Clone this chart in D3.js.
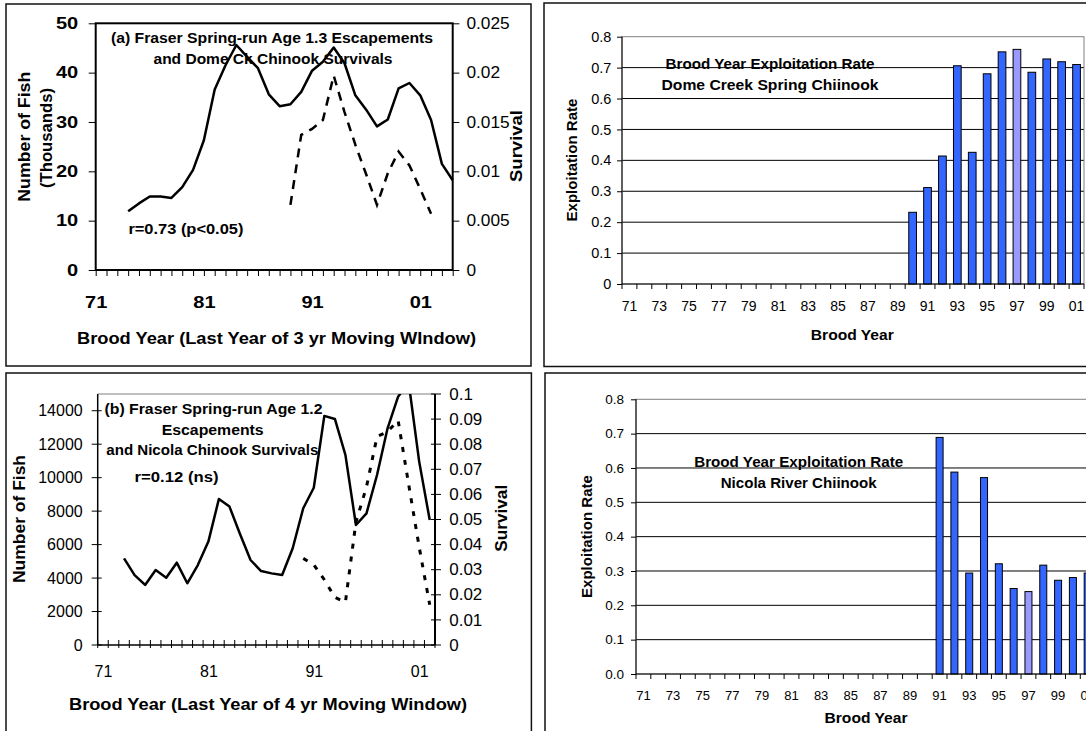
<!DOCTYPE html>
<html><head><meta charset="utf-8">
<script src="https://cdn.jsdelivr.net/npm/d3@7"></script>
<style>html,body{margin:0;padding:0;background:#fff}svg{display:block}</style>
</head><body>
<svg id="c" width="1086" height="731"></svg>
<script>
// ---------- DATA ----------
// (a) Fraser spring-run age 1.3 escapements (thousands), 3-yr moving window
const escAYears = [1974,1975,1976,1977,1978,1979,1980,1981,1982,1983,1984,1985,1986,1987,1988,1989,1990,1991,1992,1993,1994,1995,1996,1997,1998,1999,2000,2001,2002,2003,2004];
const escA = [11.9,13.5,14.9,14.9,14.6,16.8,20.3,26.3,36.6,41.5,45.6,43.2,40.9,35.6,33.2,33.6,36.1,40.4,42.2,45.1,41.9,35.4,32.5,29.1,30.5,36.8,37.9,35.4,30.4,21.5,18.2];
// Dome Ck chinook survivals
const survAYears = [1989,1990,1991,1992,1993,1994,1995,1996,1997,1998,1999,2000,2001,2002];
const survA = [0.0066,0.0137,0.0143,0.0152,0.0197,0.0160,0.0127,0.0097,0.0066,0.0098,0.0120,0.0106,0.0082,0.0057];
const escTicksA = [0,10,20,30,40,50];
const survTicksA = [0,0.005,0.01,0.015,0.02,0.025];
const yearLabelsA = [1971,1981,1991,2001];

// (b) Fraser spring-run age 1.2 escapements, 4-yr moving window
const escBYears = [1973,1974,1975,1976,1977,1978,1979,1980,1981,1982,1983,1984,1985,1986,1987,1988,1989,1990,1991,1992,1993,1994,1995,1996,1997,1998,1999,2000,2001,2002];
const escB = [5180,4180,3590,4480,4020,4920,3690,4780,6180,8730,8270,6630,5080,4420,4280,4180,5780,8170,9400,13690,13510,11360,7170,7870,10160,12950,14840,15700,10960,7470];
// Nicola chinook survivals
const survBYears = [1990,1991,1992,1993,1994,1995,1996,1997,1998,1999,2000,2001,2002];
const survB = [0.0345,0.032,0.026,0.019,0.017,0.049,0.063,0.083,0.085,0.0895,0.064,0.039,0.016];
const escTicksB = [0,2000,4000,6000,8000,10000,12000,14000];
const survTicksB = [0,0.01,0.02,0.03,0.04,0.05,0.06,0.07,0.08,0.09,0.1];
const yearLabelsB = [1971,1981,1991,2001];

// Brood year exploitation rates
const broodYears = [1971,1972,1973,1974,1975,1976,1977,1978,1979,1980,1981,1982,1983,1984,1985,1986,1987,1988,1989,1990,1991,1992,1993,1994,1995,1996,1997,1998,1999,2000,2001];
const oddYearLabels = [1971,1973,1975,1977,1979,1981,1983,1985,1987,1989,1991,1993,1995,1997,1999,2001];
const domeYears = [1990,1991,1992,1993,1994,1995,1996,1997,1998,1999,2000,2001];
const domeER = [0.232,0.312,0.414,0.706,0.426,0.680,0.751,0.759,0.685,0.728,0.719,0.710];
const nicolaYears = [1991,1992,1993,1994,1995,1996,1997,1998,1999,2000,2001];
const nicolaER = [0.689,0.588,0.294,0.572,0.321,0.249,0.240,0.317,0.273,0.281,0.294];
const highlightYear = 1997;
const erTicks = [0,0.1,0.2,0.3,0.4,0.5,0.6,0.7,0.8];

// ---------- HELPERS ----------
const FONT = "Arial, 'Liberation Sans', Helvetica, sans-serif";
const svg = d3.select("#c");
const yy = d => String(d % 100).padStart(2, "0");

function label(g, s, x, y, o = {}) {
  const t = g.append("text").attr("x", x).attr("y", y).text(s)
    .attr("font-family", FONT).attr("font-size", o.size || 14)
    .attr("font-weight", o.bold ? "bold" : "normal")
    .attr("text-anchor", o.anchor || "middle").attr("fill", "#000");
  if (o.dy) t.attr("dy", o.dy);
  if (o.rot) t.attr("transform", `rotate(-90,${x},${y})`);
  if (o.len) t.attr("textLength", o.len).attr("lengthAdjust", "spacingAndGlyphs");
  return t;
}
function styleAxis(g, o) {
  g.select(".domain").remove();
  g.selectAll(".tick line").attr("stroke", "#000").attr("stroke-width", 1);
  const tx = g.selectAll(".tick text").attr("font-family", FONT).attr("font-size", o.size)
    .attr("font-weight", o.bold ? "bold" : "normal").attr("fill", "#000");
  if (o.stretch) tx.each(function () {
    const L = this.getComputedTextLength();
    if (L > 0) d3.select(this).attr("textLength", L * o.stretch).attr("lengthAdjust", "spacingAndGlyphs");
  });
}
function panelBorder(x, y, w, h) {
  svg.append("rect").attr("x", x).attr("y", y).attr("width", w).attr("height", h)
    .attr("fill", "none").attr("stroke", "#111").attr("stroke-width", 1.5);
}

// ---------- PANEL BORDERS ----------
panelBorder(6, 4, 525, 362);
panelBorder(544, 3, 600, 363.5);
panelBorder(6, 373, 525.4, 400);
panelBorder(545, 373, 600, 400);

// ---------- PANEL A ----------
{
  const g = svg.append("g");
  const L = 95.7, R = 452.7, T = 23.3, B = 270;
  const x = d3.scaleLinear().domain([1971, 2004]).range([L, R]);
  const y = d3.scaleLinear().domain([0, 50]).range([B, T]);
  const s = d3.scaleLinear().domain([0, 0.025]).range([B, T]);

  g.append("g").attr("transform", `translate(${L},0)`)
    .call(d3.axisLeft(y).tickValues(escTicksA).tickSize(7).tickPadding(10.5).tickFormat(d3.format("d")))
    .call(styleAxis, {size: 16, bold: true, stretch: 1.25});
  g.append("g").attr("transform", `translate(${R},0)`)
    .call(d3.axisRight(s).tickValues(survTicksA).tickSize(6.7).tickPadding(7).tickFormat(d => d === 0 ? "0" : String(+d.toFixed(3))))
    .call(styleAxis, {size: 16, stretch: 1.08});
  g.append("g").attr("transform", `translate(0,${B})`)
    .call(d3.axisBottom(x).tickValues(d3.range(1971, 2005)).tickSize(6).tickPadding(20.6)
      .tickFormat(d => yearLabelsA.includes(d) ? yy(d) : ""))
    .call(styleAxis, {size: 16, bold: true, stretch: 1.25});

  g.append("rect").attr("x", L).attr("y", T).attr("width", R - L).attr("height", B - T)
    .attr("fill", "none").attr("stroke", "#000").attr("stroke-width", 2);

  const escPts = escAYears.map((d, i) => [d, escA[i]]);
  const survPts = survAYears.map((d, i) => [d, survA[i]]);
  g.append("path").attr("d", d3.line().x(d => x(d[0])).y(d => y(d[1]))(escPts))
    .attr("fill", "none").attr("stroke", "#000").attr("stroke-width", 2.5).attr("stroke-linejoin", "round");
  g.append("path").attr("d", d3.line().x(d => x(d[0])).y(d => s(d[1]))(survPts))
    .attr("fill", "none").attr("stroke", "#000").attr("stroke-width", 2.5).attr("stroke-dasharray", "9,7");

  label(g, "(a) Fraser Spring-run Age 1.3 Escapements", 272, 43, {bold: true, size: 14, len: 322});
  label(g, "and Dome Ck Chinook Survivals", 273, 64, {bold: true, size: 14, len: 239});
  label(g, "r=0.73 (p<0.05)", 128.4, 234, {bold: true, size: 14, len: 115, anchor: "start"});
  label(g, "Brood Year (Last Year of 3 yr Moving WIndow)", 276.5, 344, {bold: true, size: 16, len: 399});
  label(g, "Number of Fish", 24.3, 136.7, {bold: true, size: 16, len: 130, rot: true, dy: "0.35em"});
  label(g, "(Thousands)", 46.6, 138, {bold: true, size: 16, len: 100, rot: true, dy: "0.35em"});
  label(g, "Survival", 516, 146, {bold: true, size: 16, len: 72, rot: true, dy: "0.35em"});
}

// ---------- BAR PANEL ----------
function barPanel(o) {
  const g = svg.append("g");
  const {L, R, T, B} = o;
  const x = d3.scaleBand().domain(broodYears).range([L, R]);
  const y = d3.scaleLinear().domain([0, 0.8]).range([B, T]);
  g.selectAll("line.grid").data(erTicks.filter(v => v > 0 && v < 0.8)).join("line")
    .attr("x1", L).attr("x2", R).attr("y1", d => y(d)).attr("y2", d => y(d))
    .attr("stroke", "#000").attr("stroke-width", 1);
  g.append("rect").attr("x", L).attr("y", T).attr("width", R - L).attr("height", B - T)
    .attr("fill", "none").attr("stroke", "#808080").attr("stroke-width", 1);
  const bars = o.years.map((d, i) => ({year: d, v: o.values[i]}));
  g.selectAll("rect.bar").data(bars).join("rect")
    .attr("x", d => x(d.year) + x.bandwidth() / 2 - o.bw / 2).attr("width", o.bw)
    .attr("y", d => y(d.v)).attr("height", d => y(0) - y(d.v))
    .attr("fill", d => d.year === highlightYear ? "#9999ff" : "#3366ff")
    .attr("stroke", "#000").attr("stroke-width", 1);
  // axes lines
  g.append("line").attr("x1", L).attr("x2", L).attr("y1", T).attr("y2", B).attr("stroke", "#000");
  g.append("line").attr("x1", L).attr("x2", R).attr("y1", B).attr("y2", B).attr("stroke", "#000");
  g.append("g").attr("transform", `translate(${L},0)`)
    .call(d3.axisLeft(y).tickValues(erTicks).tickSize(5).tickPadding(o.yPad).tickFormat(o.yFmt))
    .call(styleAxis, {size: o.tickSize});
  // category boundary ticks
  g.selectAll("line.xt").data(broodYears.map(d => x(d)).concat([R])).join("line")
    .attr("x1", d => d).attr("x2", d => d).attr("y1", B).attr("y2", B + 5).attr("stroke", "#000");
  g.append("g").attr("transform", `translate(0,${B})`)
    .call(d3.axisBottom(x).tickValues(oddYearLabels).tickSize(0).tickPadding(o.xPad).tickFormat(yy))
    .call(styleAxis, {size: o.xTickSize});
  label(g, "Exploitation Rate", o.ytX, o.ytY, {bold: true, size: 15, len: 123, rot: true, dy: "0.35em"});
  label(g, "Brood Year", o.xtX, o.xtY, {bold: true, size: 15, len: 83});
  label(g, "Brood Year Exploitation Rate", o.tX, o.t1Y, {bold: true, size: 14.5, len: 209});
  label(g, o.title2, o.tX, o.t2Y, {bold: true, size: 14.5, len: o.t2Len});
}

barPanel({L: 622, R: 1084, T: 36.7, B: 284, bw: 7.7, years: domeYears, values: domeER,
  yPad: 5.6, yFmt: d => d === 0 ? "0" : d.toFixed(1), tickSize: 14.5, xTickSize: 14, xPad: 17,
  ytX: 572, ytY: 160, xtX: 852.3, xtY: 340, tX: 770, t1Y: 68.5, t2Y: 90,
  title2: "Dome Creek Spring Chiinook", t2Len: 217});

barPanel({L: 636, R: 1095.1, T: 399.3, B: 674, bw: 7, years: nicolaYears, values: nicolaER,
  yPad: 7, yFmt: d => d.toFixed(1), tickSize: 13.5, xTickSize: 13, xPad: 16.8,
  ytX: 586.5, ytY: 536.5, xtX: 866, xtY: 723, tX: 798.7, t1Y: 467, t2Y: 488,
  title2: "Nicola River Chiinook", t2Len: 156});

// ---------- PANEL C ----------
{
  const g = svg.append("g");
  const L = 97.7, R = 435, T = 394, B = 645;
  const x = d3.scaleLinear().domain([1970.5, 2002.5]).range([L, R]);
  const y = d3.scaleLinear().domain([0, 15000]).range([B, T]);
  const s = d3.scaleLinear().domain([0, 0.1]).range([B, T]);

  g.append("line").attr("x1", L).attr("x2", R).attr("y1", T).attr("y2", T).attr("stroke", "#808080");
  g.append("line").attr("x1", L).attr("x2", L).attr("y1", T).attr("y2", B).attr("stroke", "#000").attr("stroke-width", 1.5);
  g.append("line").attr("x1", R).attr("x2", R).attr("y1", T).attr("y2", B).attr("stroke", "#000").attr("stroke-width", 2);
  g.append("line").attr("x1", L).attr("x2", R).attr("y1", B).attr("y2", B).attr("stroke", "#000").attr("stroke-width", 1.5);

  g.selectAll("line.lt").data(escTicksB).join("line")
    .attr("x1", L - 6).attr("x2", L + 4).attr("y1", d => y(d)).attr("y2", d => y(d)).attr("stroke", "#000");
  g.selectAll("line.rt").data(survTicksB).join("line")
    .attr("x1", R - 4).attr("x2", R + 6).attr("y1", d => s(d)).attr("y2", d => s(d)).attr("stroke", "#000");
  g.selectAll("line.bt").data(d3.range(1970.5, 2003, 1)).join("line")
    .attr("x1", d => x(d)).attr("x2", d => x(d)).attr("y1", B - 5).attr("y2", B + 3).attr("stroke", "#000");

  g.append("g").attr("transform", `translate(${L},0)`)
    .call(d3.axisLeft(y).tickValues(escTicksB).tickSize(0).tickPadding(15).tickFormat(d3.format("d")))
    .call(styleAxis, {size: 16});
  g.append("g").attr("transform", `translate(${R},0)`)
    .call(d3.axisRight(s).tickValues(survTicksB).tickSize(0).tickPadding(14.3).tickFormat(d => d === 0 ? "0" : String(+d.toFixed(2))))
    .call(styleAxis, {size: 16, stretch: 1.06});
  g.append("g").attr("transform", `translate(0,${B})`)
    .call(d3.axisBottom(x).tickValues(yearLabelsB).tickSize(0).tickPadding(21).tickFormat(yy))
    .call(styleAxis, {size: 16});

  const clip = svg.append("clipPath").attr("id", "clipC");
  clip.append("rect").attr("x", L).attr("y", T).attr("width", R - L).attr("height", B - T);
  const lg = g.append("g").attr("clip-path", "url(#clipC)");
  const escPts = escBYears.map((d, i) => [d, escB[i]]);
  const survPts = survBYears.map((d, i) => [d, survB[i]]);
  lg.append("path").attr("d", d3.line().x(d => x(d[0])).y(d => y(d[1]))(escPts))
    .attr("fill", "none").attr("stroke", "#000").attr("stroke-width", 2.5).attr("stroke-linejoin", "round");
  lg.append("path").attr("d", d3.line().x(d => x(d[0])).y(d => s(d[1]))(survPts))
    .attr("fill", "none").attr("stroke", "#000").attr("stroke-width", 3).attr("stroke-dasharray", "5,8");

  label(g, "(b) Fraser Spring-run Age 1.2", 213.5, 414, {bold: true, size: 14, len: 218});
  label(g, "Escapements", 212.7, 434.5, {bold: true, size: 14, len: 102});
  label(g, "and Nicola Chinook Survivals", 212.3, 455, {bold: true, size: 14, len: 212});
  label(g, "r=0.12 (ns)", 176.5, 482, {bold: true, size: 14, len: 84});
  label(g, "Brood Year (Last Year of 4 yr Moving Window)", 268, 710, {bold: true, size: 16, len: 398});
  label(g, "Number of Fish", 19.8, 519, {bold: true, size: 16, len: 128, rot: true, dy: "0.35em"});
  label(g, "Survival", 501, 518.3, {bold: true, size: 16, len: 67, rot: true, dy: "0.35em"});
}
</script>
</body></html>
